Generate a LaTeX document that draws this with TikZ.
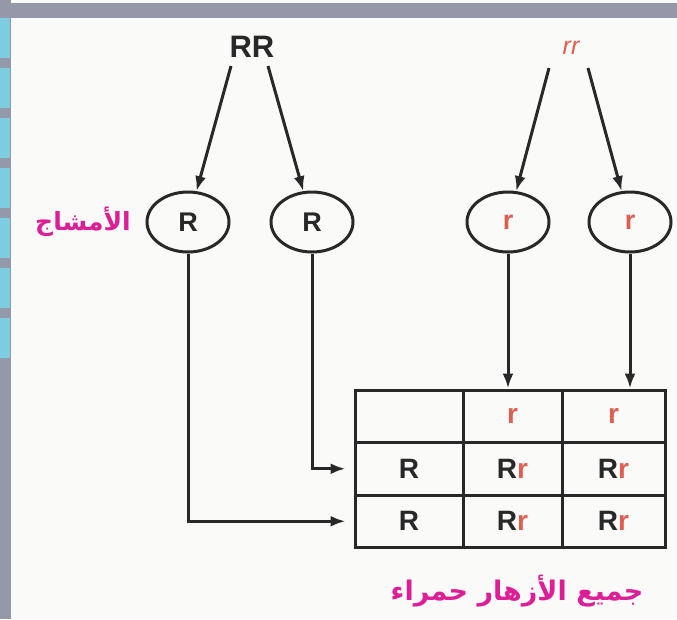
\documentclass[tikz,border=0pt]{standalone}
\usepackage{fontspec}
\setmainfont{Liberation Sans}
\newfontfamily\arabicfont[Script=Arabic]{DejaVu Sans}
\TeXXeTstate=1
\usepackage{tikz}
\usetikzlibrary{arrows,arrows.meta,shapes}
\usetikzlibrary{positioning}
\definecolor{inkgrey}{RGB}{40,40,40}
\definecolor{allelered}{RGB}{222,95,80}
\definecolor{labelpink}{RGB}{222,30,150}
\definecolor{bargrey}{RGB}{148,152,168}
\definecolor{framecyan}{RGB}{125,205,225}
\definecolor{paper}{RGB}{250,250,248}

\begin{document}
\begin{tikzpicture}[x=1pt, y=-1pt, line width=3pt,
	arrow/.style={draw=inkgrey, -{Latex[length=15pt,width=11pt]}},
	gamete/.style={draw=inkgrey, ellipse, minimum width=82pt, minimum height=60pt, inner sep=0pt, text=inkgrey, font=\bfseries\fontsize{27}{27}\selectfont},
	parent/.style={text=inkgrey, font=\bfseries\fontsize{31}{31}\selectfont, inner sep=0pt},
	cell/.style={draw=inkgrey, minimum height=52.5pt, inner sep=0pt, text=inkgrey, font=\bfseries\fontsize{28}{28}\selectfont},
	pinklabel/.style={text=labelpink, font=\arabicfont\bfseries\fontsize{25}{25}\selectfont, inner sep=0pt}]
	\useasboundingbox (0,0) rectangle (677,619);
	% page frame
	\fill[paper] (0,0) rectangle (677,619);
	\fill[bargrey] (0,3) rectangle (677,18);
	\fill[bargrey] (0,0) rectangle (11,619);
	\foreach \y in {18,68,...,340}
		\fill[framecyan] (0,\y) rectangle (10,\y+40);

	% parents
	\node[parent] (RR) at (252,47) {RR};
	\node[parent, text=allelered, font=\itshape\fontsize{25}{25}\selectfont] (rr) at (571,48) {rr};
	\coordinate (RRl) at (231,66);
	\coordinate (RRr) at (268,66);
	\coordinate (rrl) at (549,68);
	\coordinate (rrr) at (588,68);

	% gametes
	\node[pinklabel] (gamlabel) at (83,222) {\beginR الأمشاج\endR};
	\node[gamete] (g1) at (188,222) {R};
	\node[gamete] (g2) at (312,222) {R};
	\node[gamete, text=allelered] (g3) at (508,222) {r};
	\node[gamete, text=allelered] (g4) at (630,222) {r};

	% punnett square
	\node[cell, minimum width=108pt] (c00) at (409,416.25) {};
	\node[cell, minimum width=99pt, text=allelered] (c01) at (512.5,416.25) {r};
	\node[cell, minimum width=103pt, text=allelered] (c02) at (613.5,416.25) {r};
	\node[cell, minimum width=108pt] (c10) at (409,468.75) {R};
	\node[cell, minimum width=99pt] (c11) at (512.5,468.75) {R{\color{allelered}r}};
	\node[cell, minimum width=103pt] (c12) at (613.5,468.75) {R{\color{allelered}r}};
	\node[cell, minimum width=108pt] (c20) at (409,521.25) {R};
	\node[cell, minimum width=99pt] (c21) at (512.5,521.25) {R{\color{allelered}r}};
	\node[cell, minimum width=103pt] (c22) at (613.5,521.25) {R{\color{allelered}r}};

	\node[pinklabel, font=\arabicfont\bfseries\fontsize{27}{27}\selectfont] (result) at (517,591) {\beginR جميع الأزهار حمراء\endR};

	\draw[arrow] (RRl) -- (g1);
	\draw[arrow] (RRr) -- (g2);
	\draw[arrow] (rrl) -- (g3);
	\draw[arrow] (rrr) -- (g4);
	\draw[arrow] (g1) |- ([xshift=-8pt]c20.west);
	\draw[arrow] (g2) |- ([xshift=-8pt]c10.west);
	\draw[arrow] (g3) -- (g3 |- c01.north);
	\draw[arrow] (g4) -- (g4 |- c02.north);
\end{tikzpicture}
\end{document}
